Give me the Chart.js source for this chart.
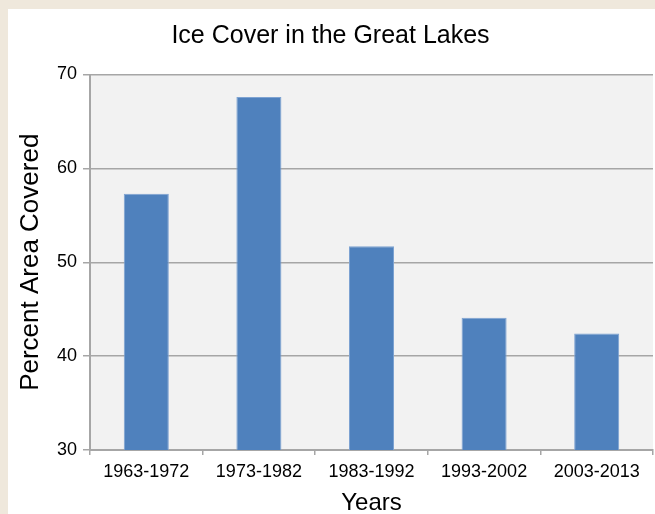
<!DOCTYPE html>
<html>
<head>
<meta charset="utf-8">
<script src="https://cdn.jsdelivr.net/npm/chart.js@4.4.0/dist/chart.umd.min.js"></script>
<style>
  html, body { margin: 0; padding: 0; background: #efe8dc; }
  body { width: 655px; height: 514px; position: relative; overflow: hidden; }
  #panel { position: absolute; left: 8px; top: 9px; width: 647px; height: 505px; background: #ffffff; }
  #chart { display: block; }
</style>
</head>
<body>
<div id="panel"><canvas id="chart" width="647" height="505"></canvas></div>
<script>
// chart data
const decades = ['1963-1972', '1973-1982', '1983-1992', '1993-2002', '2003-2013'];
const iceCover = [57.3, 67.6, 51.7, 44.1, 42.4];
const yTicks = [30, 40, 50, 60, 70];

const FONT = "'Liberation Sans', Arial, sans-serif";
const GRID = '#a6a6a6';
const INK = '#000';

// light gray plot area behind the bars
const plotBg = {
  id: 'plotBg',
  beforeDraw(chart) {
    const { ctx, chartArea: a } = chart;
    ctx.save();
    ctx.fillStyle = '#f2f2f2';
    ctx.fillRect(a.left, a.top, a.right - a.left, a.bottom - a.top);
    ctx.restore();
  }
};

new Chart(document.getElementById('chart'), {
  type: 'bar',
  data: {
    labels: decades,
    datasets: [{
      label: 'Percent Area Covered',
      data: iceCover,
      backgroundColor: '#4f81bd',
      borderColor: '#7ea3d2',
      borderWidth: 1,
      categoryPercentage: 1,
      barPercentage: 0.4
    }]
  },
  options: {
    responsive: false,
    animation: false,
    devicePixelRatio: 1,
    layout: { padding: { left: 0, right: 2, top: 0, bottom: 0 } },
    plugins: {
      legend: { display: false },
      tooltip: { enabled: false },
      title: {
        display: true,
        text: 'Ice Cover in the Great Lakes',
        color: INK,
        font: { family: FONT, size: 25, weight: 'normal', lineHeight: 1.2 },
        padding: { top: 12, bottom: 23.5 }
      }
    },
    scales: {
      x: {
        afterFit(s) { s.height = 64; },
        grid: { drawOnChartArea: false, drawTicks: true, tickLength: 5, color: GRID, lineWidth: 1.5 },
        border: { color: GRID, width: 2 },
        ticks: { color: INK, font: { family: FONT, size: 18 }, padding: 6, maxRotation: 0, autoSkip: false },
        title: {
          display: true, text: 'Years', color: INK,
          font: { family: FONT, size: 24, lineHeight: 1.2 },
          padding: { top: 0, bottom: -4 }
        }
      },
      y: {
        min: 30, max: 70,
        afterFit(s) { s.width = 82; },
        afterBuildTicks(s) { s.ticks = yTicks.map(v => ({ value: v })); },
        grid: { color: GRID, lineWidth: 1.5, tickLength: 7 },
        border: { color: GRID, width: 2 },
        ticks: { color: INK, font: { family: FONT, size: 18 }, padding: 6 },
        title: {
          display: true, text: 'Percent Area Covered', color: INK,
          font: { family: FONT, size: 26, lineHeight: 1.2 },
          padding: { top: 7, bottom: 0 }
        }
      }
    }
  },
  plugins: [plotBg]
});
</script>
</body>
</html>
